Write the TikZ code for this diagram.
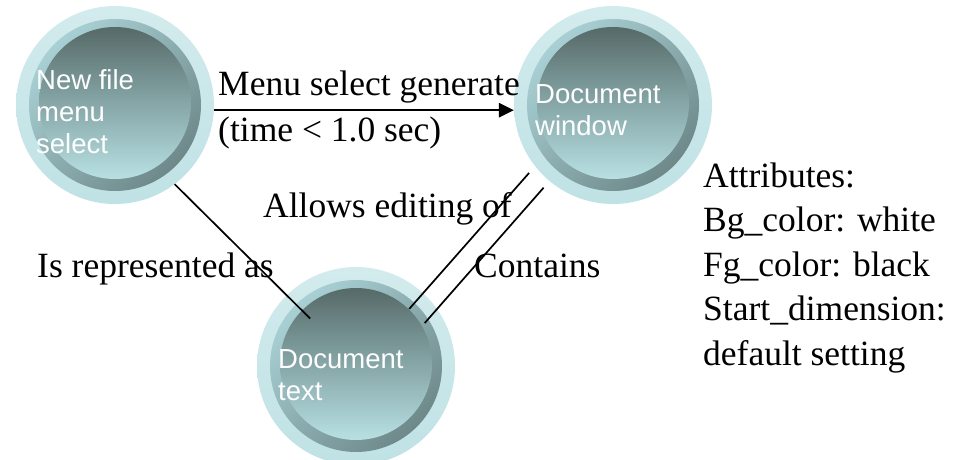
\documentclass[tikz,border=0pt]{standalone}
\usepackage{fontspec}
\setmainfont{Liberation Serif}
\setsansfont{Liberation Sans}
\usetikzlibrary{calc,arrows.meta}

\definecolor{ringtop}{HTML}{D3EBED}
\definecolor{ringbot}{HTML}{BFE2E5}
\definecolor{rimlight}{HTML}{ADD6DA}
\definecolor{rimdark}{HTML}{6A8384}
\definecolor{disktop}{HTML}{566A68}
\definecolor{diskmid}{HTML}{86A6A7}
\definecolor{diskbot}{HTML}{B8E0E3}

\tikzset{
  bubble/.style={circle, minimum size=198pt, inner sep=0pt,
    top color=ringtop, bottom color=ringbot,
    path picture={
      \shade[top color=rimlight, bottom color=rimdark, shading angle=45]
        (path picture bounding box.center) circle (86pt);
      \shade[top color=disktop, bottom color=diskbot, middle color=diskmid]
        ($(path picture bounding box.center)+(0,2)$) circle (76pt);
    }},
  % multi-line nodes sit on the baseline of their last line
  bubbletext/.style={text=white, font=\sffamily\fontsize{27.5}{32}\selectfont,
    align=left, inner sep=0pt, anchor=base west},
  lbl/.style={font=\fontsize{35.5}{44.5}\selectfont, align=left,
    inner sep=0pt, anchor=base west},
  link/.style={line width=1.7pt},
}

\begin{document}
\begin{tikzpicture}[x=1pt,y=1pt]
\useasboundingbox (0,0) rectangle (953,459);

% the three states
\node[bubble] (c1) at (115,354) {};
\node[bubble] (c2) at (613,354) {};
\node[bubble] (c3) at (356,93) {};

\node[bubbletext] (t1) at (36,306) {New file\\menu\\select};
\node[bubbletext] (t2) at (535,324) {Document\\window};
\node[bubbletext] (t3) at (278,59) {Document\\text};

% transitions
\draw[line width=2.4pt, -{Triangle[length=15pt,width=14pt]}] (c1.-3.5) -- (c2.183.5);

\coordinate (r1) at ($(c3.center)+(134:66)$);
\draw[link] (c1.-53) -- (r1);

\coordinate (a0) at ($(c2.center)+(219:108)$);
\coordinate (a1) at ($(c3.center)+(47:78)$);
\draw[link] (a0) -- (a1);

\coordinate (b0) at ($(c2.center)+(230:108)$);
\coordinate (b1) at ($(c3.center)+(32:81)$);
\draw[link] (b0) -- (b1);

% labels
\node[lbl, font=\fontsize{35.5}{46}\selectfont] (l1) at (218,318) {Menu select generate\\(time < 1.0 sec)};
\node[lbl] (l2) at (263,242) {Allows editing of};
\node[lbl] (l3) at (37,182) {Is represented as};
\node[lbl] (l4) at (474,182) {Contains};
\node[lbl] (l5) at (703,94) {Attributes:\\Bg\_color: white\\Fg\_color: black\\Start\_dimension:\\default setting};
\end{tikzpicture}
\end{document}
